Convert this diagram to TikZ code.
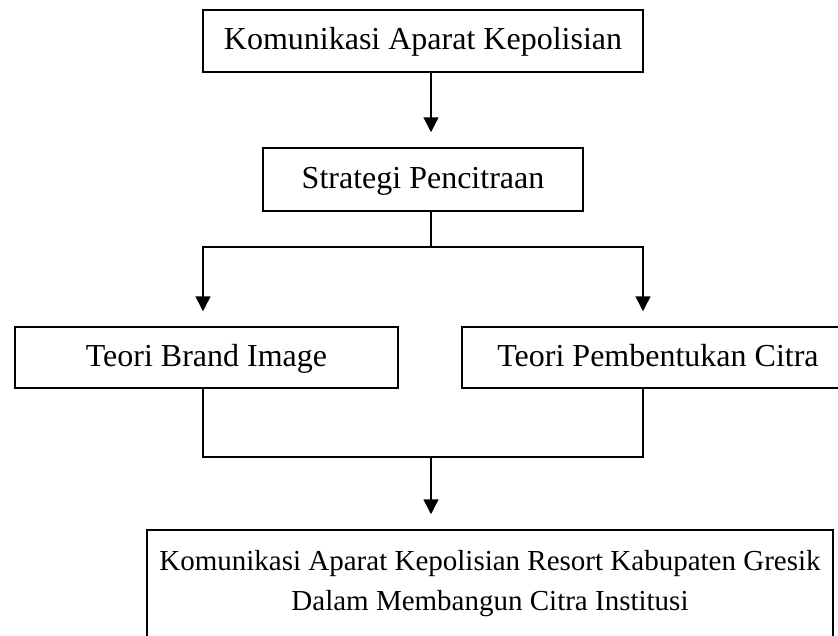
\documentclass[tikz,border=0pt]{standalone}
\usepackage{fontspec}
\setmainfont{Liberation Serif}
\usetikzlibrary{arrows.meta}
\begin{document}
\begin{tikzpicture}[x=1pt,y=-1pt,
  box/.style={draw, line width=1.5pt, inner sep=0pt, font=\fontsize{32}{40}\selectfont},
  onebox/.style={box, text height=22pt, text depth=5pt},
  ln/.style={line width=1.5pt},
  arr/.style={line width=1.5pt, shorten >=15pt, -{Triangle[width=15pt,length=15pt]}}]
\useasboundingbox (0,0) rectangle (838,635);
\clip (0,0) rectangle (838,635);
\node[onebox, minimum width=440pt, minimum height=62pt] (b1) at (423,41) {Komunikasi Aparat Kepolisian};
\node[onebox, minimum width=320pt, minimum height=63pt] (b2) at (423,179.5) {Strategi Pencitraan};
\node[onebox, minimum width=383pt, minimum height=61pt] (b3) at (206.5,357.5) {Teori Brand Image};
\node[onebox, minimum width=392pt, minimum height=61pt] (b4) at (658,357.5) {Teori Pembentukan Citra};
\node[box, font=\fontsize{29}{40}\selectfont, align=center, minimum width=686pt, minimum height=107pt] (b5) at (490,583.5) {Komunikasi Aparat Kepolisian Resort Kabupaten Gresik\\Dalam Membangun Citra Institusi};
\coordinate (split) at (431,247);
\coordinate (jn) at (431,457);
\coordinate (lx) at (203,0);
\coordinate (rx) at (643,0);
\draw[arr] (b1.south -| split) -- (b2.north -| split);
\draw[ln] (b2.south -| split) -- (split);
\draw[arr] (split) -| (b3.north -| lx);
\draw[arr] (split) -| (b4.north -| rx);
\draw[ln] (b3.south -| lx) |- (jn) -| (b4.south -| rx);
\draw[arr] (jn) -- (b5.north -| jn);
\end{tikzpicture}
\end{document}
